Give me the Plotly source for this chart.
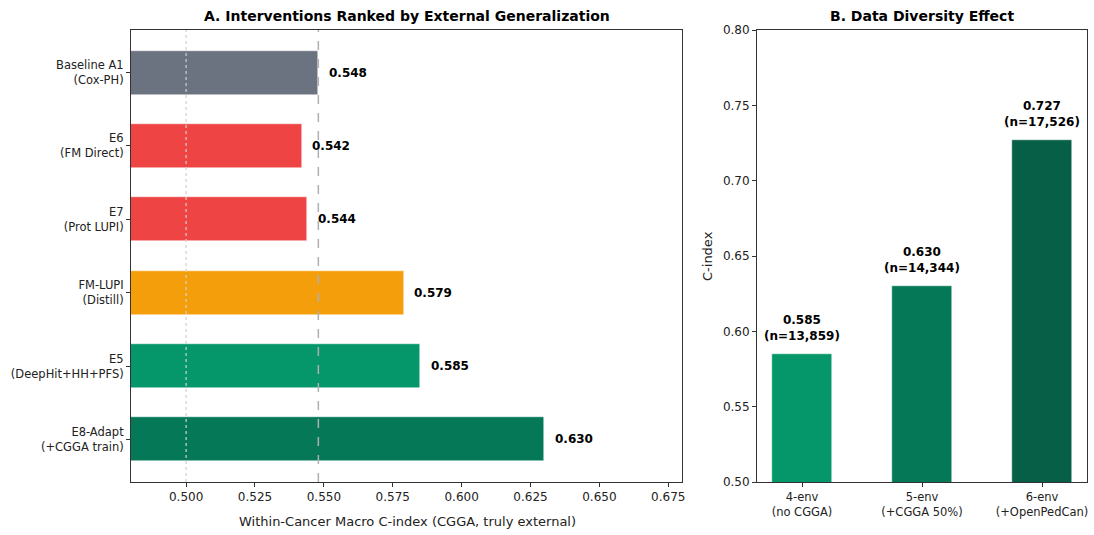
import plotly.graph_objects as go

# Panel A data
interventions = ["Baseline A1<br>(Cox-PH)", "E6<br>(FM Direct)", "E7<br>(Prot LUPI)",
                 "FM-LUPI<br>(Distill)", "E5<br>(DeepHit+HH+PFS)", "E8-Adapt<br>(+CGGA train)"]
cindex_a = [0.548, 0.542, 0.544, 0.579, 0.585, 0.630]
colors_a = ["#6b7280", "#ef4444", "#ef4444", "#f59e0b", "#059669", "#047857"]
baseline_value = 0.548
chance_value = 0.5

# Panel B data
envs = ["4-env<br>(no CGGA)", "5-env<br>(+CGGA 50%)", "6-env<br>(+OpenPedCan)"]
cindex_b = [0.585, 0.630, 0.727]
n_samples = ["13,859", "14,344", "17,526"]
colors_b = ["#059669", "#047857", "#065f46"]

# Tick labels
xticks_a = [0.5, 0.525, 0.55, 0.575, 0.6, 0.625, 0.65, 0.675]
yticks_b = [0.5, 0.55, 0.6, 0.65, 0.7, 0.75, 0.8]

W, H = 1094, 535
FONT = "DejaVu Sans"

def px_x(p):
    return p / W

def px_y(p):
    return 1 - p / H

fig = go.Figure()

ya_pos = list(range(len(interventions)))
fig.add_trace(go.Bar(
    x=cindex_a, y=ya_pos, orientation="h", width=0.6,
    marker=dict(color=colors_a, line=dict(color="white", width=0.5)),
    xaxis="x", yaxis="y", showlegend=False, hoverinfo="x+y",
))

xb_pos = list(range(len(envs)))
fig.add_trace(go.Bar(
    x=xb_pos, y=cindex_b, width=0.5,
    marker=dict(color=colors_b, line=dict(color="white", width=0.5)),
    xaxis="x2", yaxis="y2", showlegend=False,
))

axis_common = dict(showline=True, linecolor="#333333", linewidth=1, mirror=True,
                   ticks="outside", ticklen=4, tickcolor="#333333", showgrid=False,
                   zeroline=False, automargin=False)
num_font = dict(family=FONT, size=12, color="#222222")
cat_font = dict(family=FONT, size=11.5, color="#222222")

fig.update_layout(
    width=W, height=H, autosize=False,
    margin=dict(l=0, r=0, t=0, b=0, pad=0),
    plot_bgcolor="white", paper_bgcolor="white",
    font=dict(family=FONT, size=11, color="#222222"),
    bargap=0,
    xaxis=dict(domain=[px_x(131), px_x(682)], range=[0.48, 0.68], anchor="y",
               tickvals=xticks_a, ticktext=[f"{t:.3f}" for t in xticks_a],
               tickfont=num_font, **axis_common),
    yaxis=dict(domain=[px_y(482), px_y(30)], range=[5.58, -0.58], anchor="x",
               tickvals=ya_pos, ticktext=interventions, tickfont=cat_font, **axis_common),
    xaxis2=dict(domain=[px_x(757), px_x(1087)], range=[-0.375, 2.375], anchor="y2",
                tickvals=xb_pos, ticktext=envs, tickfont=cat_font, **axis_common),
    yaxis2=dict(domain=[px_y(482), px_y(30)], range=[0.5, 0.8], anchor="x2",
                tickvals=yticks_b, ticktext=[f"{t:.2f}" for t in yticks_b],
                tickfont=num_font, **axis_common),
)

# reference lines
fig.add_shape(type="line", xref="x", yref="paper", x0=chance_value, x1=chance_value,
              y0=px_y(482), y1=px_y(30), line=dict(color="#d0d0d0", width=1.2, dash="dot"), layer="above")
fig.add_shape(type="line", xref="x", yref="paper", x0=baseline_value, x1=baseline_value,
              y0=px_y(482), y1=px_y(30), line=dict(color="#b0b0b0", width=1.5, dash="dash"), layer="above")

annotations = []
for i, v in enumerate(cindex_a):
    annotations.append(dict(x=v + 0.003, y=i, xref="x", yref="y", text=f"<b>{v:.3f}</b>",
                            showarrow=False, xanchor="left", yanchor="middle",
                            font=dict(family=FONT, size=12, color="black")))
for i, v in enumerate(cindex_b):
    annotations.append(dict(x=i, y=v + 0.006, xref="x2", yref="y2",
                            text=f"<b>{v:.3f}<br>(n={n_samples[i]})</b>",
                            showarrow=False, xanchor="center", yanchor="bottom",
                            font=dict(family=FONT, size=12, color="black")))
annotations += [
    dict(x=px_x(407), y=px_y(16), xref="paper", yref="paper",
         text="<b>A. Interventions Ranked by External Generalization</b>", showarrow=False,
         xanchor="center", yanchor="middle", font=dict(family=FONT, size=14, color="black")),
    dict(x=px_x(922), y=px_y(16), xref="paper", yref="paper",
         text="<b>B. Data Diversity Effect</b>", showarrow=False,
         xanchor="center", yanchor="middle", font=dict(family=FONT, size=14, color="black")),
    dict(x=px_x(407), y=px_y(521), xref="paper", yref="paper",
         text="Within-Cancer Macro C-index (CGGA, truly external)", showarrow=False,
         xanchor="center", yanchor="middle", font=dict(family=FONT, size=13, color="#222222")),
    dict(x=px_x(708), y=px_y(256), xref="paper", yref="paper", text="C-index", textangle=-90,
         showarrow=False, xanchor="center", yanchor="middle",
         font=dict(family=FONT, size=13, color="#222222")),
]
fig.update_layout(annotations=annotations)

fig.write_html("out.html", config={"displayModeBar": False},
               post_script="document.body.style.margin='0';document.body.style.overflow='hidden';")
